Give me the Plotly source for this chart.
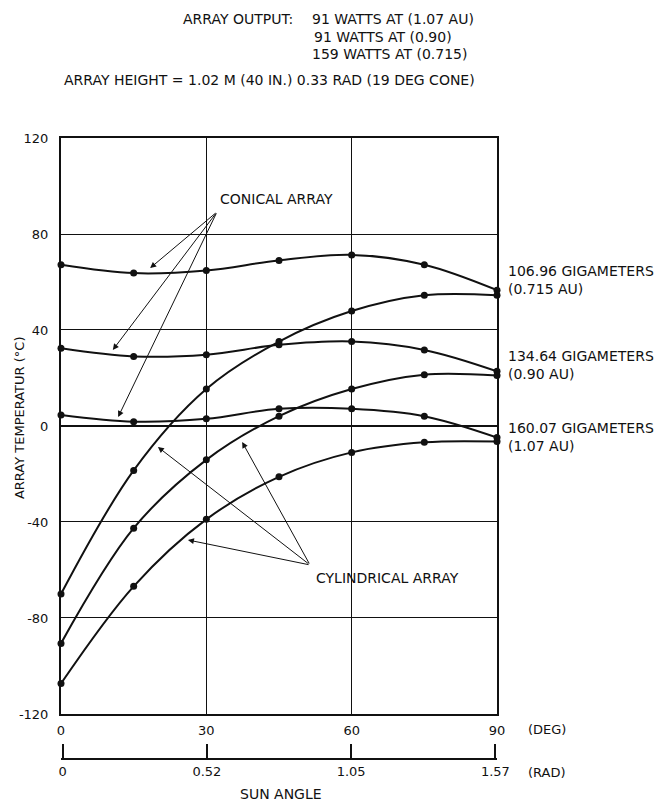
import plotly.graph_objects as go

sun_angle_deg = [0, 15, 30, 45, 60, 75, 90]

conical_0715 = [67.2, 63.7, 64.8, 69.0, 71.3, 67.2, 56.6]
conical_090 = [32.4, 29.0, 29.7, 33.8, 35.2, 31.7, 22.8]
conical_107 = [4.6, 1.8, 3.0, 7.2, 7.2, 4.1, -4.8]
cyl_0715 = [-70.0, -18.5, 15.4, 35.2, 47.9, 54.5, 54.5]
cyl_090 = [-90.6, -42.6, -14.1, 4.1, 15.4, 21.4, 21.0]
cyl_107 = [-107.3, -66.8, -38.9, -21.2, -11.0, -6.8, -6.5]

deg_ticks = [0, 30, 60, 90]
rad_tickvals = [0, 0.5236, 1.0472, 1.5708]
rad_ticktext = ["0", "0.52", "1.05", "1.57"]
y_ticks = [-120, -80, -40, 0, 40, 80, 120]
y_ticktext = ["-120", "-80", "-40", "0", "40", "80", "120"]

distance_labels = [
    ("106.96 GIGAMETERS<br>(0.715 AU)", 60.8),
    ("134.64 GIGAMETERS<br>(0.90 AU)", 25.6),
    ("160.07 GIGAMETERS<br>(1.07 AU)", -4.6),
]

FONT = "DejaVu Sans"
BLACK = "#111111"
TXT = 14
EPS = 0.006

fig = go.Figure()
for series in [conical_0715, conical_090, conical_107, cyl_0715, cyl_090, cyl_107]:
    fig.add_trace(go.Scatter(
        x=sun_angle_deg, y=series, mode="lines+markers",
        line=dict(color=BLACK, width=2, shape="spline", smoothing=1.0),
        marker=dict(color=BLACK, size=7),
        showlegend=False, hoverinfo="skip", cliponaxis=False,
    ))
# invisible trace so that the radian axis is drawn
fig.add_trace(go.Scatter(
    x=[rad_tickvals[0], rad_tickvals[-1]], y=[None, None], xaxis="x2", yaxis="y",
    mode="markers", marker=dict(opacity=0), showlegend=False, hoverinfo="skip",
))

annotations = []
header = [
    ("ARRAY OUTPUT:", 0.536, 1.1916, "right"),
    ("91 WATTS AT (1.07 AU)", 0.570, 1.1916, "left"),
    ("91 WATTS AT (0.90)", 0.575, 1.163, "left"),
    ("159 WATTS AT (0.715)", 0.570, 1.135, "left"),
    ("ARRAY HEIGHT = 1.02 M (40 IN.) 0.33 RAD (19 DEG CONE)", 0.003, 1.093, "left"),
]
for t, x, y, anc in header:
    annotations.append(dict(text=t, x=x, y=y, xref="paper", yref="paper",
                            xanchor=anc, yanchor="middle", showarrow=False,
                            font=dict(family=FONT, size=TXT, color=BLACK)))

for t, y in distance_labels:
    annotations.append(dict(text=t, x=1.0206, y=y, xref="paper", yref="y",
                            xanchor="left", yanchor="middle", align="left",
                            showarrow=False,
                            font=dict(family=FONT, size=TXT, color=BLACK)))

annotations += [
    dict(text="(DEG)", x=1.115, y=0.048, xref="paper", yref="paper",
         xanchor="center", yanchor="middle", showarrow=False,
         font=dict(family=FONT, size=13, color=BLACK)),
    dict(text="(RAD)", x=1.115, y=-0.021, xref="paper", yref="paper",
         xanchor="center", yanchor="middle", showarrow=False,
         font=dict(family=FONT, size=13, color=BLACK)),
    dict(text="SUN ANGLE", x=0.5046, y=-0.0564, xref="paper", yref="paper",
         xanchor="center", yanchor="middle", showarrow=False,
         font=dict(family=FONT, size=TXT, color=BLACK)),
    dict(text="ARRAY TEMPERATUR (°C)", x=-0.0963, y=0.549, xref="paper", yref="paper",
         xanchor="center", yanchor="middle", textangle=-90, showarrow=False,
         font=dict(family=FONT, size=13, color=BLACK)),
    dict(text="CONICAL ARRAY", x=44.4, y=94.6, xref="x", yref="y",
         xanchor="center", yanchor="middle", showarrow=False,
         font=dict(family=FONT, size=TXT, color=BLACK)),
    dict(text="CYLINDRICAL ARRAY", x=67.4, y=-63.3, xref="x", yref="y",
         xanchor="center", yanchor="middle", showarrow=False,
         font=dict(family=FONT, size=TXT, color=BLACK)),
]

conical_tail = (32.2, 89.2)
conical_heads = [(18.4, 65.8), (10.7, 31.7), (11.8, 3.75)]
cyl_tail = (51.4, -57.9)
cyl_heads = [(20.0, -8.75), (37.4, -6.7), (26.2, -47.5)]
for tail, heads in [(conical_tail, conical_heads), (cyl_tail, cyl_heads)]:
    for hx, hy in heads:
        annotations.append(dict(text="", x=hx, y=hy, ax=tail[0], ay=tail[1],
                                xref="x", yref="y", axref="x", ayref="y",
                                showarrow=True, arrowhead=2, arrowsize=1.2,
                                arrowwidth=1, arrowcolor=BLACK))

fig.update_layout(
    width=657, height=803,
    margin=dict(l=61, r=160, t=138, b=44),
    paper_bgcolor="white", plot_bgcolor="white",
    font=dict(family=FONT, size=13, color=BLACK),
    annotations=annotations,
    xaxis=dict(range=[0, 90], tickvals=deg_ticks, showgrid=True,
               gridcolor=BLACK, gridwidth=1, showline=True, linewidth=2,
               linecolor=BLACK, mirror=True, zeroline=False, ticks="",
               ticklabelstandoff=3,
               tickfont=dict(family=FONT, size=13, color=BLACK)),
    yaxis=dict(range=[-120, 120], tickvals=y_ticks, ticktext=y_ticktext,
               domain=[0.0725, 1],
               showgrid=True, gridcolor=BLACK, gridwidth=1, showline=True,
               linewidth=2, linecolor=BLACK, mirror=True, zeroline=True,
               zerolinecolor=BLACK, zerolinewidth=1.5, ticks="",
               ticklabelstandoff=8,
               tickfont=dict(family=FONT, size=13, color=BLACK)),
    xaxis2=dict(range=[-EPS, 1.5708 + EPS], tickvals=rad_tickvals, ticktext=rad_ticktext,
                overlaying="x", anchor="free", position=0, side="bottom",
                showline=True, linewidth=2, linecolor=BLACK, showgrid=False,
                zeroline=False, ticks="inside", ticklen=14, tickwidth=1.5,
                tickcolor=BLACK,
                tickfont=dict(family=FONT, size=13, color=BLACK)),
)

fig.write_html("out.html")
